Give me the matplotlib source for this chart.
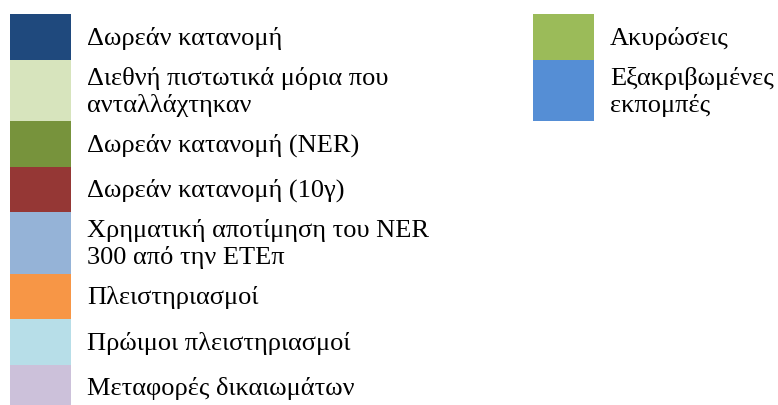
"""Legend panel (Greek) for allowance categories."""

import matplotlib
matplotlib.use("Agg")
import matplotlib.pyplot as plt

# Legend entries, left column then right column

left_labels = [
    "Δωρεάν κατανομή",
    "Διεθνή πιστωτικά μόρια που\nανταλλάχτηκαν",
    "Δωρεάν κατανομή (NER)",
    "Δωρεάν κατανομή (10γ)",
    "Χρηματική αποτίμηση του NER\n300 από την ΕΤΕπ",
    "Πλειστηριασμοί",
    "Πρώιμοι πλειστηριασμοί",
    "Μεταφορές δικαιωμάτων",
]
left_colors = [
    "#1F497D", "#D7E4BD", "#77933C", "#953735",
    "#95B3D7", "#F79646", "#B7DEE8", "#CCC1DA",
]
right_labels = ["Ακυρώσεις", "Εξακριβωμένες\nεκπομπές"]
right_colors = ["#9BBB59", "#558ED5"]

# Hard-coded graphical parameters (pixels)

W, H = 778, 405
top = 14
row_one = 45.5
row_two = 61.5
swatch_w = 61
columns = [(10, left_labels, left_colors), (533, right_labels, right_colors)]

fig = plt.figure(figsize=(W / 100, H / 100), dpi=100)
ax = fig.add_axes([0, 0, 1, 1])
ax.set_xlim(0, W)
ax.set_ylim(H, 0)
ax.axis("off")

for x0, labels, colors in columns:
    y = top
    for label, color in zip(labels, colors):
        h = row_two if "\n" in label else row_one
        ax.bar(x0, h, width=swatch_w, bottom=y, align="edge", color=color,
               linewidth=0)
        ax.text(x0 + swatch_w + 16, y + h / 2 + 1.5, label, va="center",
                ha="left", fontsize=19, family="Liberation Serif",
                linespacing=1.22, color="black")
        y += h

fig.savefig("out.png", dpi=100)
